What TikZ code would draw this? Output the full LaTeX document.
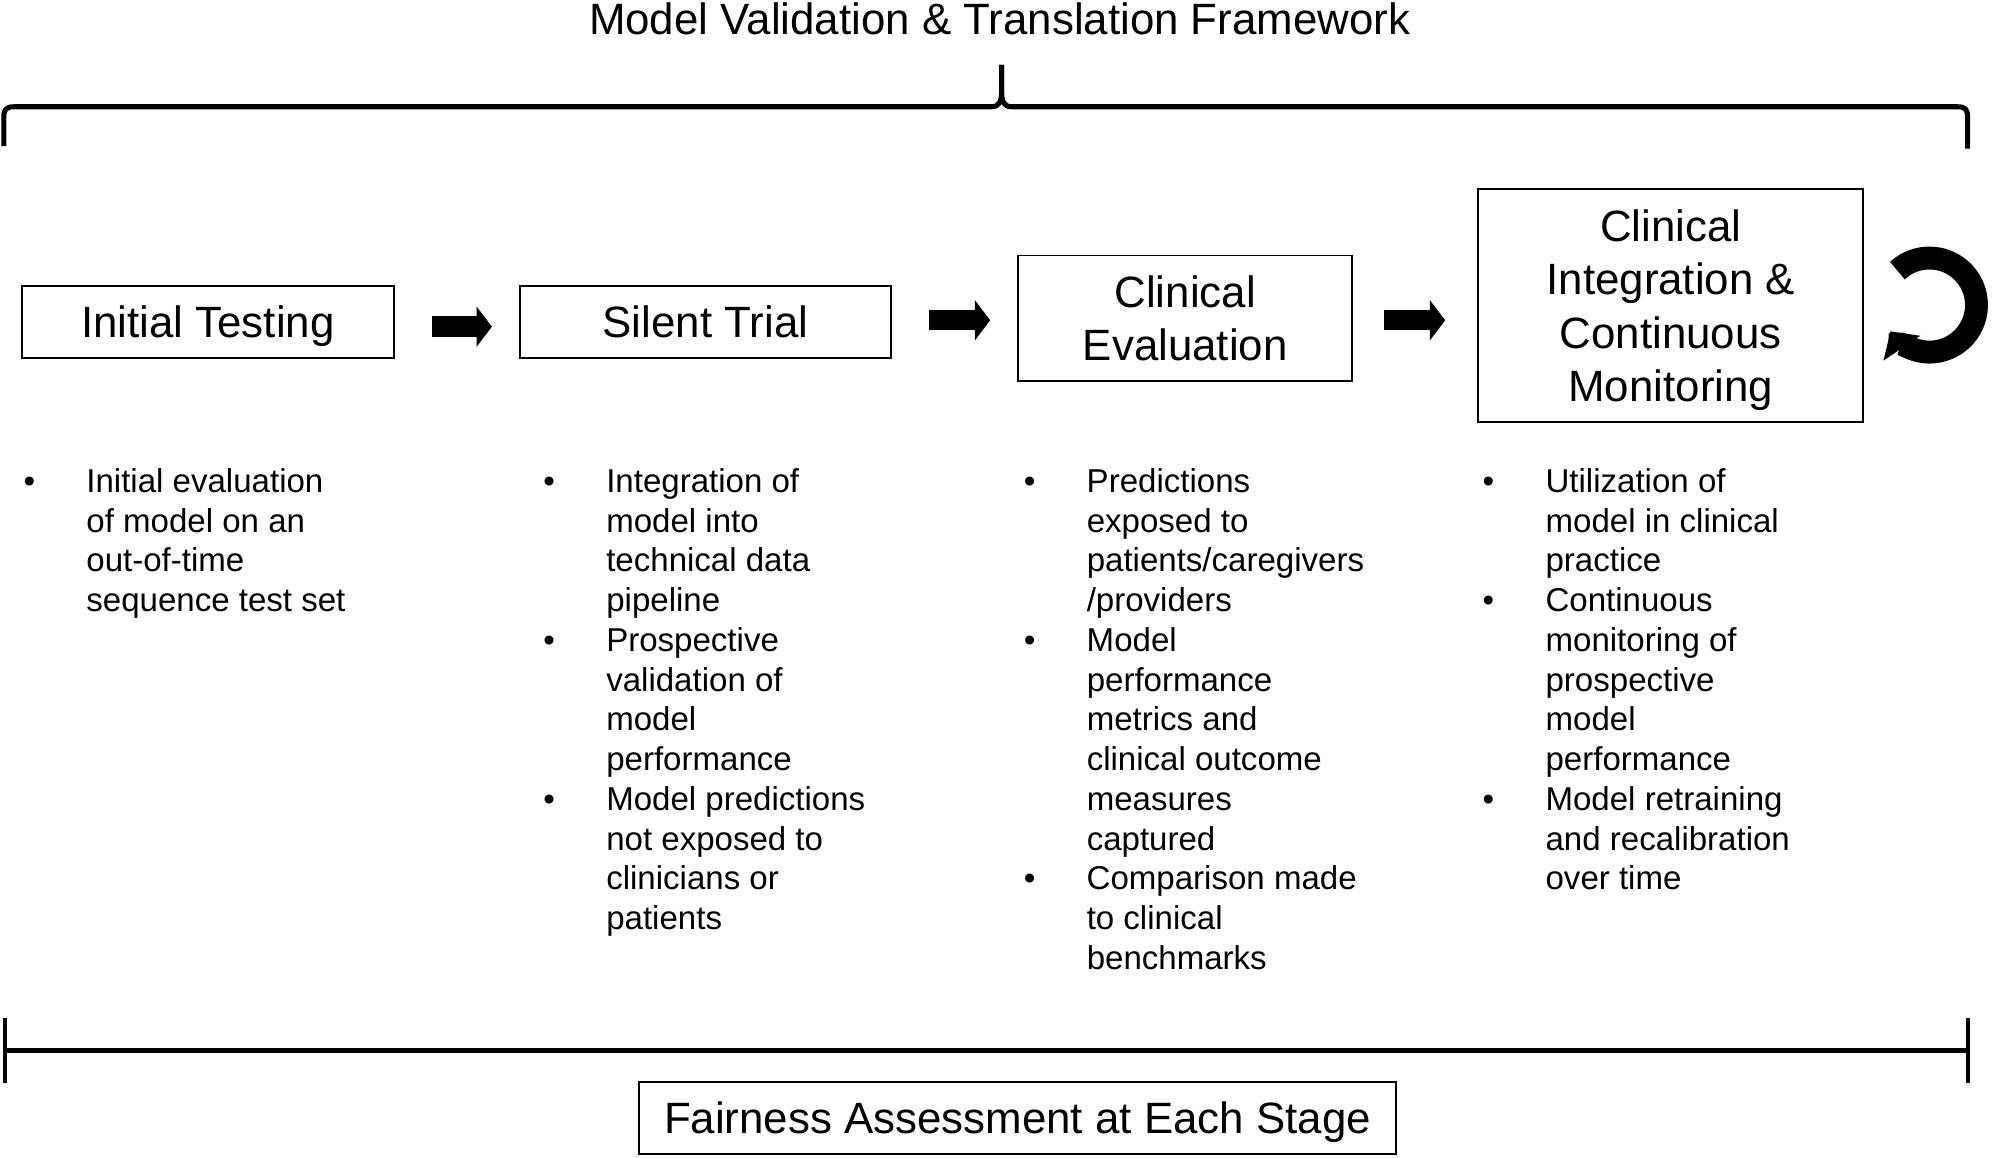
\documentclass[tikz,border=0pt]{standalone}
\usepackage{fontspec}
\setmainfont{Liberation Sans}
\usetikzlibrary{arrows.meta}
\begin{document}
\begin{tikzpicture}[x=1bp,y=1bp,
  every node/.style={inner sep=0pt, outer sep=0pt},
  bigfont/.style={font=\fontsize{34.5bp}{42bp}\selectfont},
  smallfont/.style={font=\fontsize{26bp}{31.25bp}\selectfont},
  stagebox/.style={draw, line width=1.5bp, bigfont, align=center},
  oneline/.style={text height=24.7bp, text depth=0pt},
  blockarrow/.style={line width=16bp, -{Triangle[length=12bp,width=31bp]}, shorten <=30bp, shorten >=22bp},
  bracket/.style={line width=4bp, line cap=butt, line join=round},
  bulletcol/.style={smallfont, anchor=base west}]
\useasboundingbox (0,0) rectangle (1568,-911);

% title and brace
\node[bigfont, anchor=base] (title) at (786.5,-27) {Model Validation \& Translation Framework};
\draw[bracket] (3,-115) -- (3,-92) .. controls (3,-86) and (5,-84) .. (11,-84) -- (780,-84) .. controls (786,-84) and (788,-80) .. (788,-72) -- (788,-51);
\draw[bracket] (788,-51) -- (788,-72) .. controls (788,-80) and (790,-84) .. (796,-84) -- (1540,-84) .. controls (1546,-84) and (1548,-86) .. (1548,-92) -- (1548,-117);

% stage boxes
\node[stagebox, oneline, minimum width=293bp, minimum height=57bp] (it) at (163.5,-253.5) {Initial Testing};
\node[stagebox, oneline, minimum width=292bp, minimum height=57bp] (st) at (555,-253.5) {Silent Trial};
\node[stagebox, minimum width=263bp, minimum height=99bp] (ce) at (932.5,-250.5) {Clinical\\Evaluation};
\node[stagebox, text depth=0pt, minimum width=303bp, minimum height=183bp] (ci) at (1314.5,-240.5) {Clinical\\Integration \&\\Continuous\\Monitoring};

% arrows
\draw[blockarrow] ([yshift=-3.5bp]it.east) -- ([yshift=-3.5bp]st.west);
\draw[blockarrow] ([yshift=-1.5bp]st.east |- ce.west) -- ([yshift=-1.5bp]ce.west);
\draw[blockarrow, shorten <=25bp, shorten >=26bp] ([yshift=-1.5bp]ce.east) -- ([yshift=-1.5bp]ce.east -| ci.west);

% loop arrow
\coordinate (loopc) at (1518,-240);
\draw[line width=18bp, -{Triangle[length=16bp,width=34bp]}] ([shift={(133:37bp)}]loopc) arc[start angle=133, end angle=-146, radius=37bp];

% bullet columns
\node[bulletcol] (c1) at (18.5,-387.5) {\begin{tabular}[t]{@{}p{49.5bp}@{}l@{}}
• & Initial evaluation\\
  & of model on an\\
  & out-of-time\\
  & sequence test set
\end{tabular}};
\node[bulletcol] (c2) at (427.5,-387.5) {\begin{tabular}[t]{@{}p{49.5bp}@{}l@{}}
• & Integration of\\
  & model into\\
  & technical data\\
  & pipeline\\
• & Prospective\\
  & validation of\\
  & model\\
  & performance\\
• & Model predictions\\
  & not exposed to\\
  & clinicians or\\
  & patients
\end{tabular}};
\node[bulletcol] (c3) at (805.5,-387.5) {\begin{tabular}[t]{@{}p{49.5bp}@{}l@{}}
• & Predictions\\
  & exposed to\\
  & patients/caregivers\\
  & /providers\\
• & Model\\
  & performance\\
  & metrics and\\
  & clinical outcome\\
  & measures\\
  & captured\\
• & Comparison made\\
  & to clinical\\
  & benchmarks
\end{tabular}};
\node[bulletcol] (c4) at (1166.5,-387.5) {\begin{tabular}[t]{@{}p{49.5bp}@{}l@{}}
• & Utilization of\\
  & model in clinical\\
  & practice\\
• & Continuous\\
  & monitoring of\\
  & prospective\\
  & model\\
  & performance\\
• & Model retraining\\
  & and recalibration\\
  & over time
\end{tabular}};

% bottom bar
\draw[line width=4.5bp] (4,-826.5) -- (1548,-826.5);
\draw[line width=3bp] (4,-801) -- (4,-852);
\draw[line width=3bp] (1548,-801) -- (1548,-852);
\node[stagebox, oneline, minimum width=595bp, minimum height=57bp] (fa) at (800.5,-879.5) {Fairness Assessment at Each Stage};
\end{tikzpicture}
\end{document}
